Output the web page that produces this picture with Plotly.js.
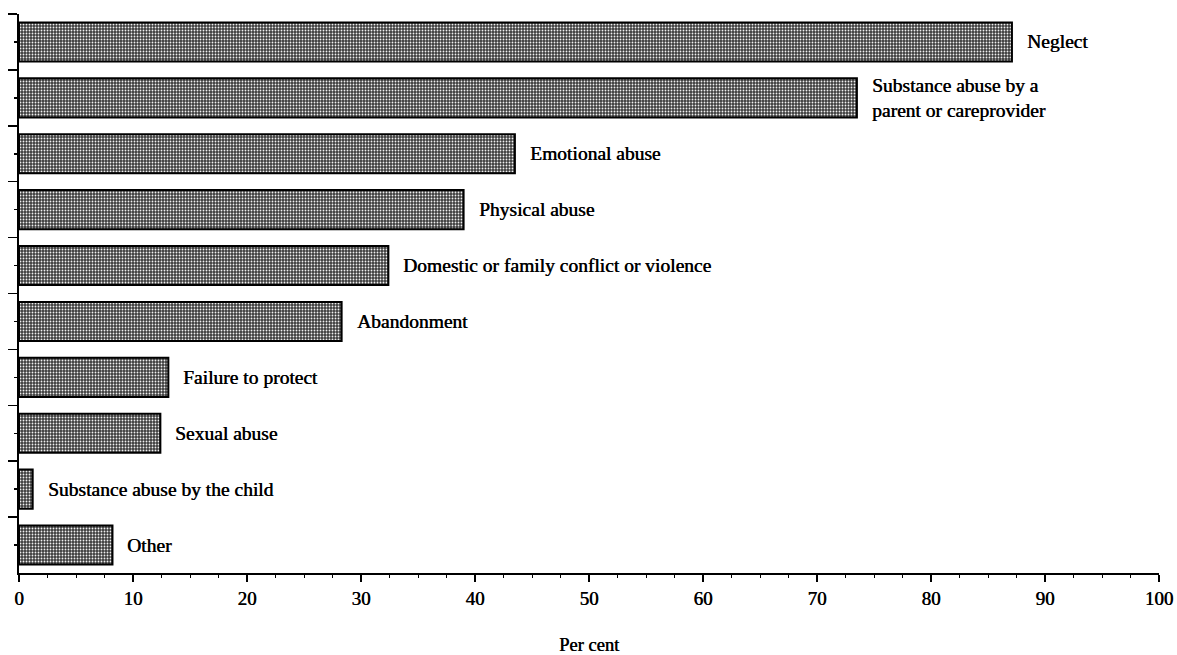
<!DOCTYPE html>
<html>
<head>
<meta charset="utf-8">
<script src="https://cdn.plot.ly/plotly-3.0.1.min.js"></script>
<style>html,body{margin:0;padding:0;background:#fff;}#chart{width:1177px;height:655px;}</style>
</head>
<body>
<div id="chart"></div>
<script>
const categories = [
  "Neglect",
  "Substance abuse by a<br>parent or careprovider",
  "Emotional abuse",
  "Physical abuse",
  "Domestic or family conflict or violence",
  "Abandonment",
  "Failure to protect",
  "Sexual abuse",
  "Substance abuse by the child",
  "Other"
];
const percentValues = [87.1, 73.5, 43.5, 39.0, 32.4, 28.3, 13.1, 12.4, 1.2, 8.2];
const xTickValues = [0, 10, 20, 30, 40, 50, 60, 70, 80, 90, 100];
const xTickLabels = ["0", "10", "20", "30", "40", "50", "60", "70", "80", "90", "100"];
const centreTicks = [0, 1, 2, 3, 4, 5, 6, 7, 8, 9];

const serif = "Liberation Serif, Times New Roman, serif";
const thicken = "0.5px 0px 0px #000";

const barTrace = {
  type: "bar",
  orientation: "h",
  x: percentValues,
  y: categories,
  width: 0.7,
  marker: {
    color: "#3c3c3c",
    line: {color: "#000", width: 2},
    pattern: {shape: ".", fgcolor: "#f0f0f0", bgcolor: "#3c3c3c", size: 3, solidity: 0.3}
  },
  hoverinfo: "x+y"
};

// empty helper trace so the second (centre-tick) axis is drawn
const axisHelper = {
  type: "scatter",
  mode: "markers",
  x: [],
  y: [],
  yaxis: "y2",
  hoverinfo: "skip",
  showlegend: false
};

const annotations = categories.map((c, i) => ({
  x: percentValues[i],
  y: c,
  xref: "x",
  yref: "y",
  text: c,
  showarrow: false,
  xanchor: "left",
  align: "left",
  xshift: 13,
  font: {family: serif, size: 19.5, color: "#000", shadow: thicken}
}));

const layout = {
  width: 1177,
  height: 655,
  margin: {l: 19, r: 18, t: 14, b: 82},
  paper_bgcolor: "#fff",
  plot_bgcolor: "#fff",
  showlegend: false,
  xaxis: {
    range: [0, 100],
    tickmode: "array",
    tickvals: xTickValues,
    ticktext: xTickLabels,
    ticks: "outside",
    ticklen: 7,
    tickwidth: 1.5,
    tickcolor: "#000",
    minor: {dtick: 2.5, ticks: "outside", ticklen: 3, tickcolor: "#000", tickwidth: 1},
    showline: true,
    linecolor: "#000",
    linewidth: 2,
    showgrid: false,
    zeroline: false,
    tickfont: {family: serif, size: 19, color: "#000", shadow: thicken},
    title: {text: "Per cent", font: {family: serif, size: 18.5, color: "#000", shadow: thicken}, standoff: 32}
  },
  yaxis: {
    type: "category",
    categoryorder: "array",
    categoryarray: categories,
    range: [9.5, -0.5],
    showticklabels: false,
    ticks: "outside",
    tickson: "boundaries",
    ticklen: 9,
    tickwidth: 1.5,
    tickcolor: "#000",
    showline: true,
    linecolor: "#000",
    linewidth: 2,
    showgrid: false,
    zeroline: false
  },
  yaxis2: {
    overlaying: "y",
    side: "left",
    range: [9.5, -0.5],
    tickmode: "array",
    tickvals: centreTicks,
    showticklabels: false,
    ticks: "outside",
    ticklen: 4,
    tickwidth: 1.5,
    tickcolor: "#000",
    showline: false,
    showgrid: false,
    zeroline: false
  },
  annotations: annotations
};

Plotly.newPlot("chart", [barTrace, axisHelper], layout, {staticPlot: true, displayModeBar: false});
</script>
</body>
</html>
